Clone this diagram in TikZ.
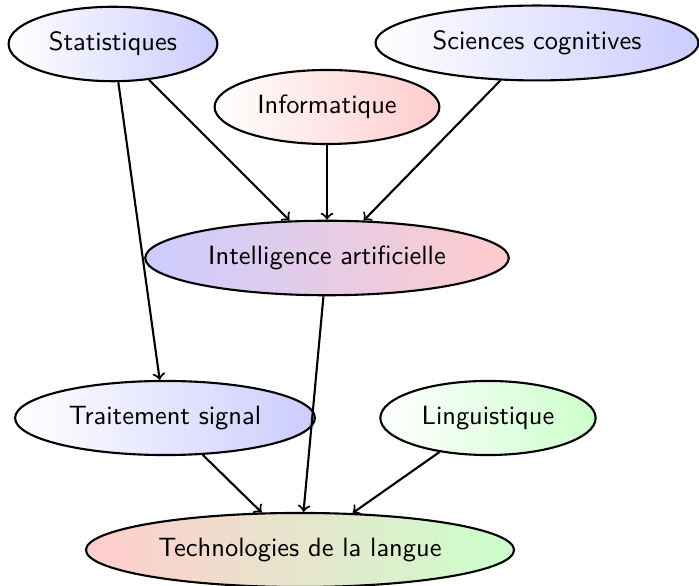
\documentclass[tikz,border=0pt]{standalone}
\usetikzlibrary{shapes.geometric}

\tikzset{every picture/.style={line width=0.8pt}}
\tikzset{
	field/.style={ellipse, draw, font=\sffamily, inner xsep=3.7pt, inner ysep=5.4pt},
	link/.style={->}
}

\begin{document}
\begin{tikzpicture}[x=0.378pt,y=0.378pt,yscale=-1,xscale=1]
	\useasboundingbox (0,0) rectangle (699,586);

	% Top row
	\node [field, left color=white, right color=blue!20] (stat) at (113,44) {Statistiques};
	\node [field, left color=white, right color=blue!20] (cogn) at (537,43) {Sciences cognitives};
	\node [field, left color=white, right color=red!20] (info) at (327,107) {Informatique};
	% Middle
	\node [field, left color=blue!20, right color=red!20] (ia) at (327,258) {Intelligence artificielle};
	% Lower row
	\node [field, left color=white, right color=blue!20] (signal) at (165,418) {Traitement signal};
	\node [field, left color=white, right color=green!20] (ling) at (488,418) {Linguistique};
	\node [field, left color=red!20, right color=green!20] (tech) at (300,550) {Technologies de la langue};

	% Links
	\draw [link] (stat) -- (ia);
	\draw [link] (info) -- (ia);
	\draw [link] (cogn) -- (ia);
	\draw [link] (stat) -- (signal);
	\draw [link] (ia) -- (tech);
	\draw [link] (signal) -- (tech);
	\draw [link] (ling) -- (tech);

\end{tikzpicture}
\end{document}
